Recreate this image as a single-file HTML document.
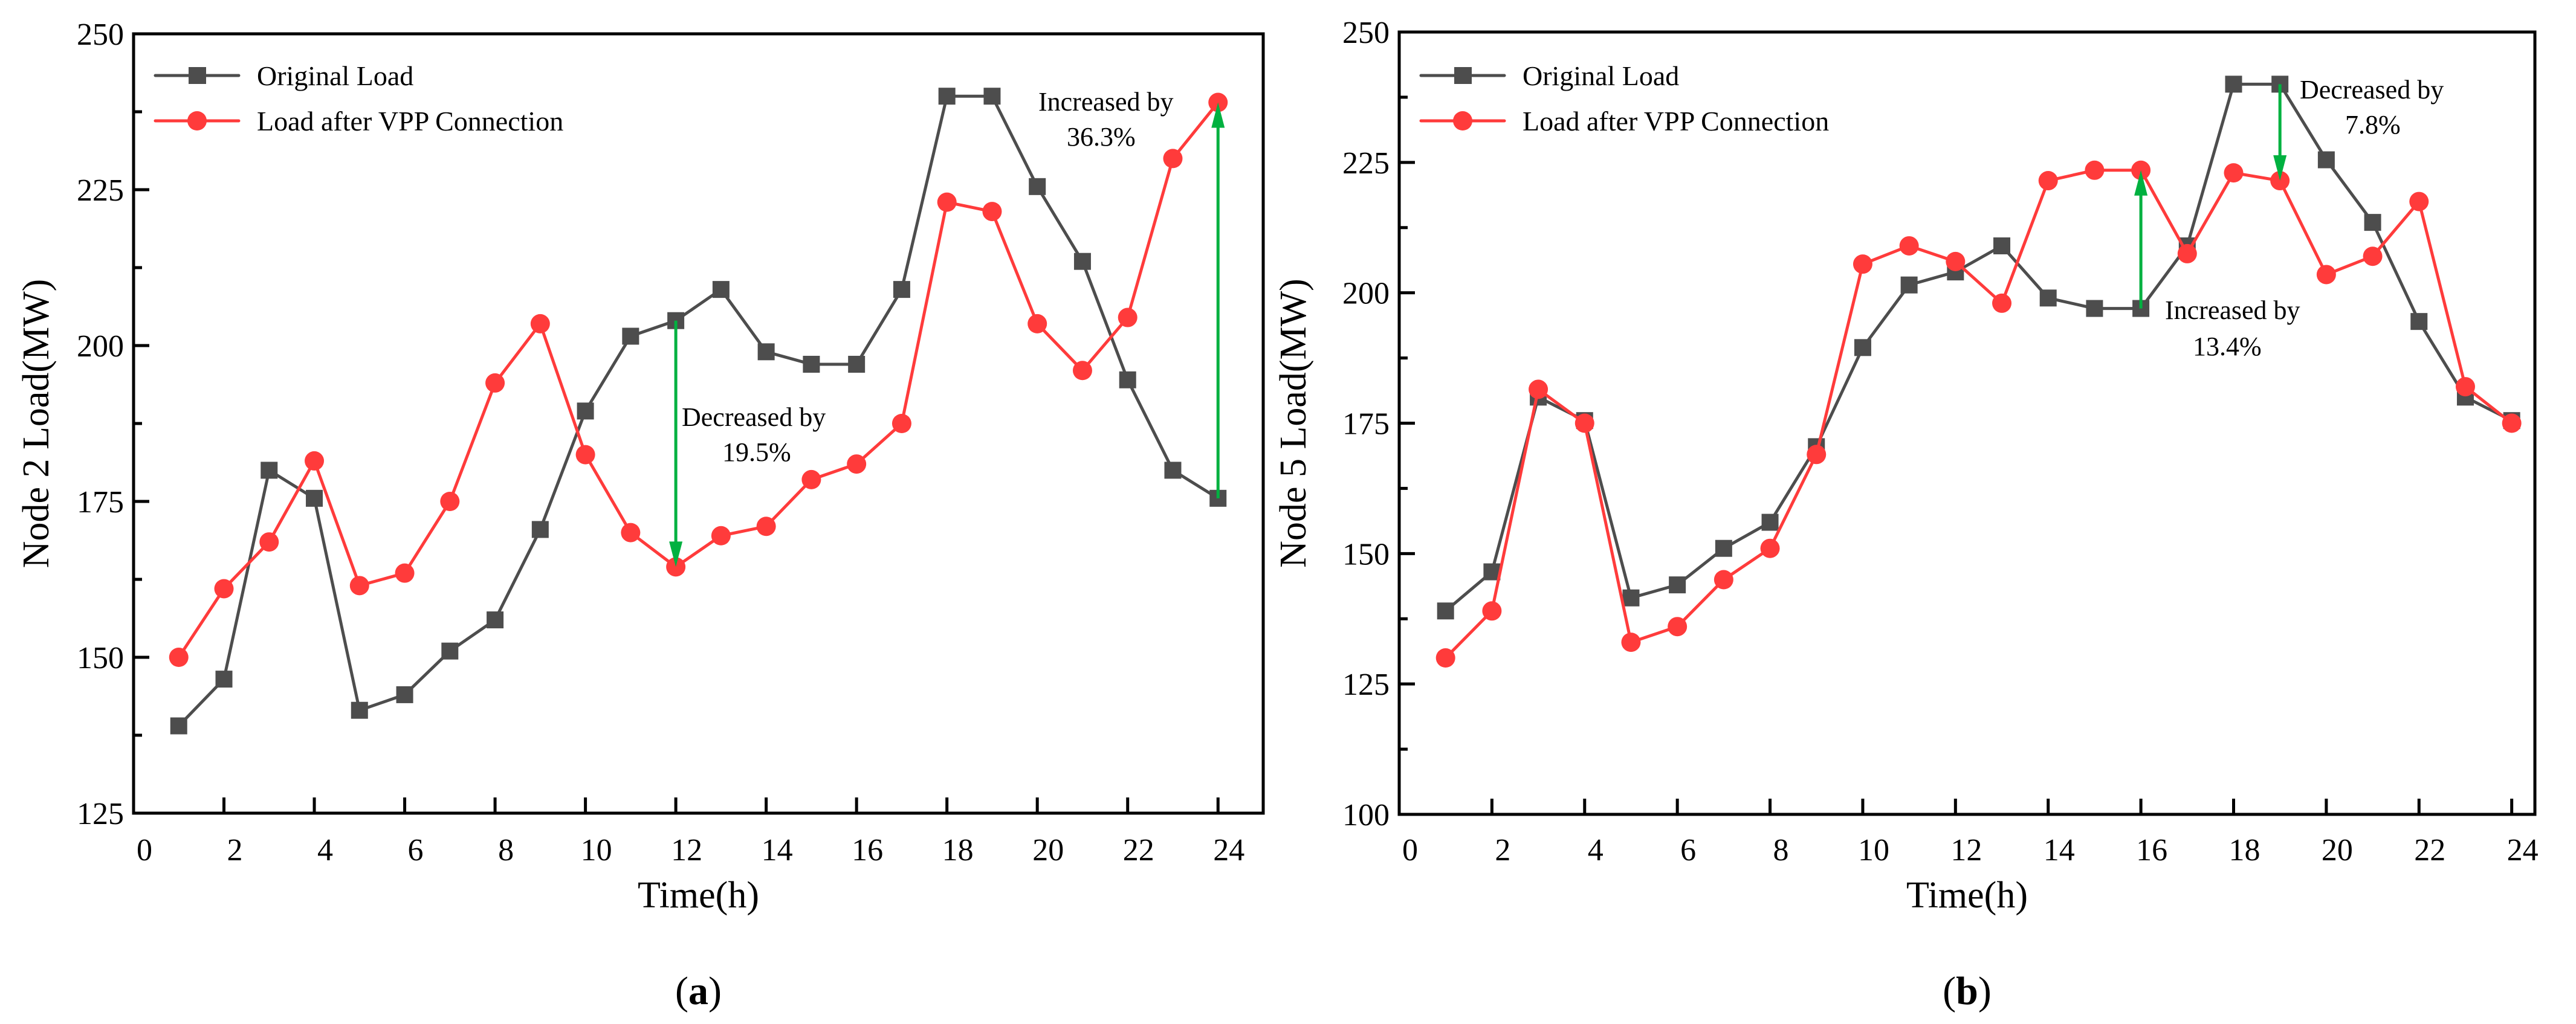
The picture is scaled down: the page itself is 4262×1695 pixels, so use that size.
<!DOCTYPE html>
<html><head><meta charset="utf-8"><style>
html,body{margin:0;padding:0;background:#fff;}
svg{display:block;font-family:"Liberation Serif",serif;}
</style></head><body>
<svg id="root" width="4262" height="1695" viewBox="0 0 4262 1695"></svg>
<script>
const hours=[1,2,3,4,5,6,7,8,9,10,11,12,13,14,15,16,17,18,19,20,21,22,23,24];
const origA=[139,146.5,180,175.5,141.5,144,151,156,170.5,189.5,201.5,204,209,199,197,197,209,240,240,225.5,213.5,194.5,180,175.5];
const vppA=[150,161,168.5,181.5,161.5,163.5,175,194,203.5,182.5,170,164.5,169.5,171,178.5,181,187.5,223,221.5,203.5,196,204.5,230,239];
const origB=[139,146.5,180,175.5,141.5,144,151,156,170.5,189.5,201.5,204,209,199,197,197,209,240,240,225.5,213.5,194.5,180,175.5];
const vppB=[130,139,181.5,175,133,136,145,151,169,205.5,209,206,198,221.5,223.5,223.5,207.5,223,221.5,203.5,207,217.5,182,175];
const xTicks=[0,2,4,6,8,10,12,14,16,18,20,22,24];
const yTicksA=[125,150,175,200,225,250];
const yTicksB=[100,125,150,175,200,225,250];

const NS="http://www.w3.org/2000/svg";
const root=document.getElementById('root');
function el(tag,attrs,parent,text){const e=document.createElementNS(NS,tag);for(const k in attrs)e.setAttribute(k,attrs[k]);if(text!==undefined)e.textContent=text;(parent||root).appendChild(e);return e;}

function panel(cfg){
  const g=el('g',{});
  
  
  const L=cfg.left,R=cfg.right,T=cfg.top,B=cfg.bottom;
  const X=v=>L+(v-0)/(cfg.xmax-0)*(R-L);
  const Y=v=>B-(v-cfg.ymin)/(cfg.ymax-cfg.ymin)*(B-T);
  const fr=el('rect',{x:L,y:T,width:R-L,height:B-T,fill:'none',stroke:'#000','stroke-width':5},g);
  
  
  xTicks.forEach(t=>{
    const l=el('line',{x1:X(t),x2:X(t),y1:B,y2:B-26,stroke:'#000','stroke-width':5},g);
    
    
    const tx=el('text',{x:X(t)+18,y:1424,'font-size':52,'text-anchor':'middle'},g,String(t));
    
    
  });
  const yt=cfg.yticks;
  yt.forEach((t,i)=>{
    const l=el('line',{x1:L,x2:L+26,y1:Y(t),y2:Y(t),stroke:'#000','stroke-width':5},g);
    
    
    const tx=el('text',{x:L-16,y:Y(t)+18,'font-size':52,'text-anchor':'end'},g,String(t));
    
    
    if(i<yt.length-1){
      const m=(t+yt[i+1])/2;
      const ml=el('line',{x1:L,x2:L+14,y1:Y(m),y2:Y(m),stroke:'#000','stroke-width':5},g);
      
      
    }
  });
  const xt=el('text',{x:(L+R)/2,y:1502,'font-size':62,'text-anchor':'middle'},g,'Time(h)');
  
  
  const ytl=el('text',{x:0,y:0,'font-size':62,'text-anchor':'middle',transform:`translate(${cfg.ytx},${(T+B)/2}) rotate(-90)`},g,cfg.ytitle);
  
  
  const pl=el('text',{x:(L+R)/2,y:1662,'font-size':66,'text-anchor':'middle'},g);
  
  
  el('tspan',{},pl,'(');el('tspan',{'font-weight':'bold'},pl,cfg.letter);el('tspan',{},pl,')');
  function series(vals,color,kind,name){
    const sg=el('g',{},g);
    
    
    const pts=hours.map((h,i)=>X(h)+','+Y(vals[i])).join(' ');
    const ln=el('polyline',{points:pts,fill:'none',stroke:color,'stroke-width':5,'stroke-linejoin':'round'},sg);
    
    
    hours.forEach((h,i)=>{
      let m;
      if(kind==='sq') m=el('rect',{x:X(h)-14,y:Y(vals[i])-14,width:28,height:28,fill:color},sg);
      else m=el('circle',{cx:X(h),cy:Y(vals[i]),r:16,fill:color},sg);
      
      
    });
  }
  series(cfg.orig,'#4d4d4d','sq','original-load-series');
  series(cfg.vpp,'#ff3b3b','ci','vpp-load-series');
  cfg.arrows.forEach(a=>{
    const ag=el('g',{},g);
    
    
    const x=X(a[0]),y1=Y(a[1]),y2=Y(a[2]);
    const dir=y2>y1?1:-1;
    el('line',{x1:x,x2:x,y1:y1,y2:y2-dir*40,stroke:'#00b140','stroke-width':5},ag);
    el('polygon',{points:`${x},${y2} ${x-11},${y2-dir*42} ${x+11},${y2-dir*42}`,fill:'#00b140'},ag);
  });
  cfg.notes.forEach(n=>{
    const t=el('text',{x:n[0],y:n[1],'font-size':44},g,n[2]);
    
    
  });
  const lg=el('g',{},g);
  
  
  const lx=L+36;
  [[125,'#4d4d4d','sq','Original Load'],[200,'#ff3b3b','ci','Load after VPP Connection']].forEach(r=>{
    const e=el('g',{},lg);
    
    
    el('line',{x1:lx,x2:lx+138,y1:r[0],y2:r[0],stroke:r[1],'stroke-width':5,'stroke-linecap':'round'},e);
    if(r[2]==='sq') el('rect',{x:lx+55,y:r[0]-14,width:29,height:28,fill:r[1]},e);
    else el('circle',{cx:lx+69,cy:r[0],r:16,fill:r[1]},e);
    el('text',{x:lx+168,y:r[0]+16,'font-size':46},e,r[3]);
  });
}
panel({name:'chart-a',letter:'a',left:221,right:2090,top:56,bottom:1346,xmax:25,ymin:125,ymax:250,yticks:yTicksA,
  ytitle:'Node 2 Load(MW)',ytx:80,orig:origA,vpp:vppA,
  arrows:[[12,204,164.5],[24,175.5,239]],
  notes:[[1128,705,'Decreased by'],[1195,763,'19.5%'],[1718,183,'Increased by'],[1765,241,'36.3%']]});
panel({name:'chart-b',letter:'b',left:2315,right:4194,top:53,bottom:1348,xmax:24.5,ymin:100,ymax:250,yticks:yTicksB,
  ytitle:'Node 5 Load(MW)',ytx:2160,orig:origB,vpp:vppB,
  arrows:[[16,197,223.5],[19,240,221.5]],
  notes:[[3805,163,'Decreased by'],[3880,221,'7.8%'],[3582,528,'Increased by'],[3628,588,'13.4%']]});
</script>
</body></html>
